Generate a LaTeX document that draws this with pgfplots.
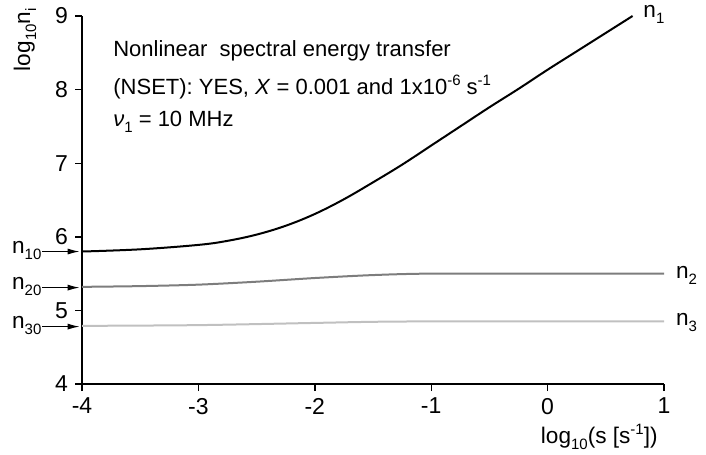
\documentclass[border=0pt]{standalone}
\usepackage{fontspec}
\setmainfont{Liberation Sans}
\usepackage{pgfplots}
\pgfplotsset{compat=1.18}
\usetikzlibrary{calc,arrows.meta}
\definecolor{ntwo}{RGB}{125,125,125}
\definecolor{nthree}{RGB}{192,192,192}
% low, small subscript like in the original figure
\newcommand\sub[1]{\raisebox{-3pt}{\fontsize{7.5}{8}\selectfont #1}}
\newcommand\sups[1]{\raisebox{4.5pt}{\fontsize{7.5}{8}\selectfont #1}}

\begin{document}
\begin{tikzpicture}[font=\fontsize{11.3}{12}\selectfont]
\begin{axis}[
    scale only axis,
    width=291pt, height=184pt,
    xmin=-4, xmax=1, ymin=4, ymax=9,
    axis lines=left,
    axis line style={-, line width=0.8pt},
    xtick={-4,-3,-2,-1,0,1},
    ytick={4,5,6,7,8,9},
    tick align=outside,
    major tick length=3.5pt,
    tick style={line width=0.7pt, black},
    /pgf/number format/assume math mode=true,
    ticklabel style={font=\fontsize{11.5}{12}\selectfont},
    clip=false,
]
\coordinate (O) at (rel axis cs:0,0);
\coordinate (T) at (rel axis cs:1,1);

% n1
\addplot[black, line width=1pt, smooth, tension=0.6] coordinates {
    (-4.0,5.80) (-3.5,5.83) (-3.0,5.89) (-2.75,5.945) (-2.5,6.03)
    (-2.25,6.15) (-2.0,6.31) (-1.75,6.51) (-1.5,6.74) (-1.25,6.98)
    (-1.0,7.24) (-0.75,7.50) (-0.5,7.76) (-0.25,8.01) (0.0,8.27)
    (0.25,8.52) (0.5,8.77) (0.73,9.0)
};
% n2
\addplot[ntwo, line width=1pt, smooth, tension=0.5] coordinates {
    (-4.0,5.32) (-3.5,5.33) (-3.0,5.35) (-2.5,5.39) (-2.0,5.44)
    (-1.5,5.48) (-1.0,5.50) (0.0,5.50) (1.0,5.50)
};
% n3
\addplot[nthree, line width=1pt, smooth, tension=0.5] coordinates {
    (-4.0,4.79) (-3.0,4.80) (-2.0,4.83) (-1.5,4.845) (-1.0,4.85) (1.0,4.85)
};

% curve names
\node[anchor=base west, inner sep=0pt] at (axis cs:0.82,8.98) {n\sub{1}};
\node[anchor=base west, inner sep=0pt] at (axis cs:1.1,5.44) {n\sub{2}};
\node[anchor=base west, inner sep=0pt] at (axis cs:1.1,4.79) {n\sub{3}};

% starting values
\draw[-{Latex[length=6pt,width=3pt]}, line width=0.6pt] (axis cs:-4.34,5.80) -- (axis cs:-4.02,5.80);
\draw[-{Latex[length=6pt,width=3pt]}, line width=0.6pt] (axis cs:-4.34,5.31) -- (axis cs:-4.02,5.31);
\draw[-{Latex[length=6pt,width=3pt]}, line width=0.6pt] (axis cs:-4.34,4.78) -- (axis cs:-4.02,4.78);
\node[anchor=base east, inner sep=0.3pt] at (axis cs:-4.34,5.77) {n\sub{10}};
\node[anchor=base east, inner sep=0.3pt] at (axis cs:-4.34,5.28) {n\sub{20}};
\node[anchor=base east, inner sep=0.3pt] at (axis cs:-4.34,4.75) {n\sub{30}};

% annotation
\begin{scope}[font=\fontsize{11}{12}\selectfont]
\node[anchor=base west, inner sep=0pt] at (axis cs:-3.734,8.447) {Nonlinear\ \ spectral energy transfer};
\node[anchor=base west, inner sep=0pt] at (axis cs:-3.734,7.927) {(NSET): YES, \textit{X} = 0.001 and 1x10\sups{-6} s\sups{-1}};
\node[anchor=base west, inner sep=0pt] at (axis cs:-3.734,7.496) {\textit{ν}\sub{1} = 10 MHz};
\end{scope}
\end{axis}

% axis titles
\node[rotate=90, anchor=base east, inner sep=0pt] at ($(O|-T)+(-26pt,4pt)$) {log\sub{10}n\sub{i}};
\node[anchor=base east, inner sep=0pt] at ($(T|-O)+(-3pt,-29.5pt)$) {log\sub{10}(s [s\sups{-1}])};

\pgfresetboundingbox
\path ($(O)+(-41pt,-35pt)$) rectangle ($(T)+(21pt,8pt)$);
\end{tikzpicture}
\end{document}
